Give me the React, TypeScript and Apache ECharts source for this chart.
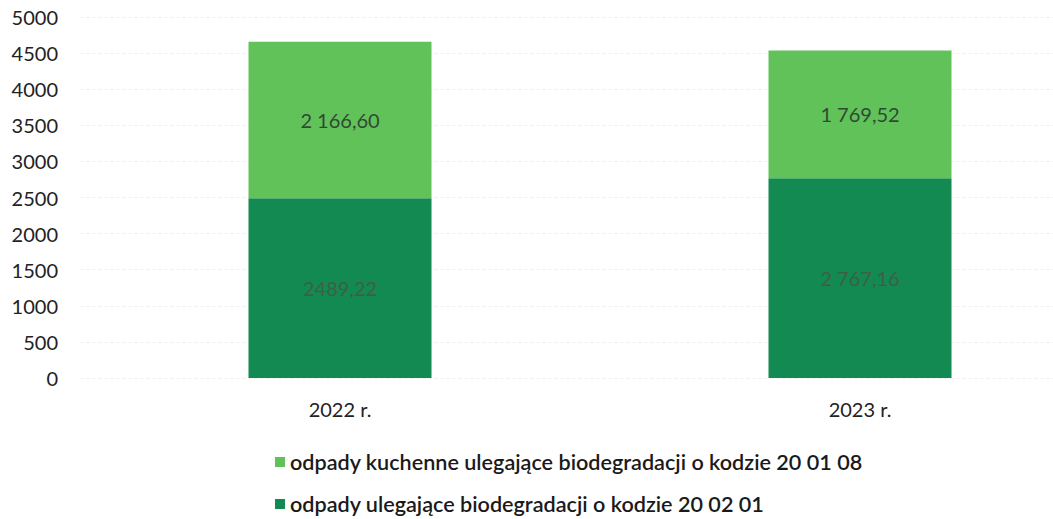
import React, { useEffect, useRef } from "react";
import * as echarts from "echarts";

const categories = ["2022 r.", "2023 r."];
const kitchenWaste = [2166.6, 1769.52];
const kitchenLabels = ["2 166,60", "1 769,52"];
const bioWaste = [2489.22, 2767.16];
const bioLabels = ["2489,22", "2 767,16"];
const yTicks = [0, 500, 1000, 1500, 2000, 2500, 3000, 3500, 4000, 4500, 5000];

const nameKitchen = "odpady kuchenne ulegające biodegradacji o kodzie 20 01 08";
const nameBio = "odpady ulegające biodegradacji o kodzie 20 02 01";

export default function App() {
  const ref = useRef<HTMLDivElement>(null);
  useEffect(() => {
    if (!ref.current) return;
    const chart = echarts.init(ref.current, undefined, { renderer: "svg" });
    const font = "Lato, 'Open Sans', sans-serif";
    const legendText = { fontSize: 21.6, color: "#1a1a1a", fontFamily: font, fontWeight: 600 };
    chart.setOption({
      animation: false,
      textStyle: { fontFamily: font },
      grid: { left: 80, top: 17, width: 1040, height: 361, containLabel: false, outerBoundsMode: "none" },
      legend: [
        {
          left: 270,
          top: 446,
          itemWidth: 10,
          itemHeight: 10,
          itemGap: 0,
          icon: "rect",
          data: [nameKitchen],
          textStyle: { ...legendText, padding: [0, 0, 0, 0] },
        },
        {
          left: 270,
          top: 488,
          itemWidth: 10,
          itemHeight: 10,
          itemGap: 0,
          icon: "rect",
          data: [nameBio],
          textStyle: { ...legendText, padding: [0, 0, 0, 0] },
        },
      ],
      xAxis: {
        type: "category",
        data: categories,
        axisLine: { show: false },
        axisTick: { show: false },
        axisLabel: { fontSize: 20, color: "#222", margin: 21, fontFamily: font },
      },
      yAxis: {
        type: "value",
        min: yTicks[0],
        max: yTicks[yTicks.length - 1],
        interval: 500,
        axisLine: { show: false },
        axisTick: { show: false },
        axisLabel: { fontSize: 20, color: "#222", margin: 22, fontFamily: font, formatter: (v: number) => String(v) },
        splitLine: { show: true, lineStyle: { color: "#f2f2f2", type: "dashed" } },
      },
      series: [
        {
          name: nameBio,
          type: "bar",
          stack: "total",
          barWidth: 183,
          data: bioWaste,
          itemStyle: { color: "#138a51" },
          label: {
            show: true,
            position: "inside",
            fontSize: 20,
            color: "#3f5e48",
            fontFamily: font,
            formatter: (p: any) => bioLabels[p.dataIndex],
          },
        },
        {
          name: nameKitchen,
          type: "bar",
          stack: "total",
          barWidth: 183,
          data: kitchenWaste,
          itemStyle: { color: "#62c25a" },
          label: {
            show: true,
            position: "inside",
            fontSize: 20,
            color: "#2f4a33",
            fontFamily: font,
            formatter: (p: any) => kitchenLabels[p.dataIndex],
          },
        },
      ],
    });
    return () => chart.dispose();
  }, []);
  return <div ref={ref} style={{ width: 1053, height: 519, position: "absolute", left: 0, top: 0, background: "#fff" }} />;
}
